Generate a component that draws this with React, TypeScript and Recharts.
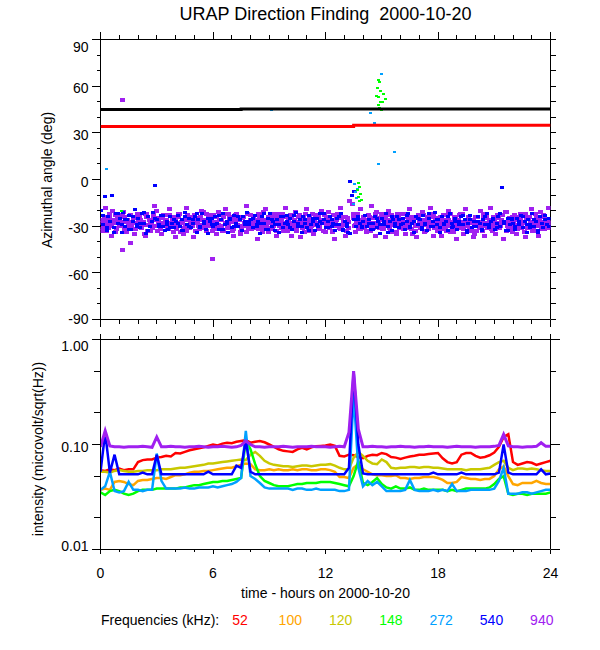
import React from "react";
import { ScatterChart, Scatter, ComposedChart, Line, XAxis, YAxis } from "recharts";

const FONT = '"Liberation Sans", Arial, Helvetica, sans-serif';
const INK = "#000";

// ---------- top panel: azimuthal angle (deg) ----------
// 940 kHz sweeps on a 0.1 h grid (offsets 0, 0.05, 0.075 h); null = no sample
const az940a = [
  -28, -31, -25, -33, -27, -22, -30, -26, -34, -24, -29, -27, -21, -32, -26, -30, -23, -28, -35, -25,
  -27, -24, -31, -29, -22, -33, -26, -28, -25, -30, -20, -27, -32, -24, -29, -26, -31, -23, -28, -34,
  -25, -29, -22, -27, -31, -26, -33, -24, -28, -30, -23, -27, -25, -32, -29, -21, -26, -30, -28, -24,
  -31, -27, -24, -29, -26, -33, -22, -28, -30, -25, -27, -32, -23, -29, -26, -31, -24, -28, -34, -27,
  -23, -30, -26, -28, -32, -25, -29, -21, -27, -31, -26, -24, -30, -28, -33, -25, -27, -22, -29, -31,
  -26, -28, -24, -32, -27, -30, -23, -29, -25, -34, -28, -26, -31, -22, -27, -29, -24, -30, -26, -33,
  -28, -25, -31, -27, -23, -30, -26, -29, -32, -24, -28, -33, -27, null, null, -25, -29, -22, -30, -27,
  -24, -31, -28, -26, -33, -25, -29, -21, -27, -30, -26, -32, -24, -28, -31, -23, -29, -27, -34, -25,
  -30, -27, -22, -29, -26, -31, -24, -28, -33, -25, -27, -30, -23, -29, -26, -32, -28, -24, -31, -27,
  -25, -29, -32, -26, -28, -23, -30, -27, -34, -24, -29, -26, -31, -22, -28, -30, -25, -27, -33, -26,
  -29, -24, -31, -27, -25, -30, -22, -28, -26, -33, -27, -29, -24, -31, -26, -28, -21, -30, -25, -32,
  -27, -23, -29, -31, -26, -28, -34, -25, -30, -24, -27, -32, -22, -29, -26, -31, -28, -24, -30, -27,
  -28,
];
const az940b = [
  -26, -33, -29, -24, -31, -27, -20, -28, -32, -25, -30, -23, -27, -34, -26, -29, -31, -24, -28, -22,
  -30, -26, -28, -35, -24, -29, -27, -31, -22, -26, -33, -28, -25, -30, -27, -23, -32, -29, -26, -24,
  -32, -24, -28, -26, -35, -29, -23, -31, -27, -25, -33, -28, -30, -24, -26, -31, -22, -29, -27, -33,
  -23, -29, -32, -26, -30, -24, -28, -31, -22, -27, -33, -25, -29, -26, -35, -24, -30, -27, -22, -31,
  -28, -24, -31, -27, -22, -29, -34, -26, -30, -24, -28, -32, -25, -27, -22, -30, -26, -33, -24, -28,
  -31, -23, -29, -26, -33, -24, -28, -31, -27, -22, -30, -25, -27, -33, -29, -24, -32, -26, -28, -23,
  -24, -30, -27, -34, -26, -28, -22, -31, -25, -29, -24, -27, -31, null, -16, -30, -24, -27, -32, -26,
  -29, -26, -33, -24, -28, -31, -22, -30, -27, -25, -32, -28, -23, -30, -26, -34, -25, -29, -22, -31,
  -26, -32, -28, -24, -30, -27, -35, -25, -29, -23, -31, -26, -28, -33, -24, -30, -27, -22, -29, -26,
  -31, -24, -27, -29, -33, -26, -22, -31, -28, -25, -30, -23, -27, -32, -26, -29, -24, -31, -28, -35,
  -24, -30, -27, -33, -22, -28, -31, -26, -29, -24, -32, -25, -28, -30, -23, -27, -33, -26, -29, -24,
  -30, -26, -32, -24, -29, -27, -22, -31, -25, -28, -33, -26, -30, -24, -27, -32, -23, -29, -26, -31,
];
const az940c = [
  -33, -27, -18, -30, -25, -36, -28, -23, -31, -26, -29, -45, -24, -34, -27, -41, -30, -25, -32, -28,
  -24, -31, -27, -36, -22, -29, -33, -26, -17, -30, -25, -28, -35, -23, -27, -31, -19, -29, -26, -37,
  -29, -22, -34, -27, -31, -18, -26, -30, -24, -37, -28, -25, -32, -20, -29, -27, -33, -23, -30, -51,
  -27, -35, -21, -30, -26, -33, -19, -28, -31, -24, -36, -27, -22, -30, -34, -25, -28, -17, -31, -26,
  -32, -25, -29, -38, -23, -27, -31, -19, -28, -34, -26, -30, -22, -36, -27, -24, -31, -28, -18, -33,
  -25, -36, -28, -21, -31, -27, -37, -24, -29, -19, -33, -26, -30, -35, -23, -28, -31, -20, -27, -34,
  -30, -21, -26, -33, -38, -24, -29, -18, -32, -27, -36, -25, -14, null, -22, -34, -27, -31, -19, -29,
  -27, -34, -23, -30, -17, -28, -36, -25, -31, -22, -29, -37, -26, -20, -33, -28, -24, -35, -27, -30,
  -22, -29, -35, -27, -19, -32, -26, -30, -37, -24, -28, -21, -34, -27, -31, -18, -29, -36, -25, -33,
  -28, -36, -23, -31, -27, -20, -34, -29, -25, -38, -27, -22, -30, -35, -19, -28, -32, -26, -37, -24,
  -33, -27, -20, -30, -36, -25, -29, -18, -32, -27, -35, -23, -30, -26, -38, -28, -21, -31, -27, -34,
  -26, -35, -29, -22, -31, -27, -37, -24, -30, -19, -28, -33, -25, -36, -21, -29, -32, -27, -18, -30,
];
// 540 kHz: 0.1 h grid (offset 0.025 h) and 0.2 h grid (offset 0.125 h)
const az540a = [
  -20, -29, -11, -33, -24, -27, -10, -31, -22, -28, -25, -34, -21, -30, -26, -23, -32, -27, -19, -29,
  -25, -31, -22, -28, -35, -24, -30, -27, -21, -4, -26, -29, -23, -30, -33, -27, -32, -24, -28, -31,
  -27, -23, -30, -26, -33, -21, -29, -25, -31, -28, -24, -34, -26, -30, -22, -28, -32, -25, -27, -29,
  -30, -24, -28, -32, -26, -22, -29, -27, -34, -25, -31, -23, -28, -30, -26, -33, -24, -29, -21, -27,
  -26, -31, -23, -29, -27, -35, -24, -28, -32, -25, -22, -30, -27, -33, -26, -29, -24, -31, -28, -23,
  -29, -25, -32, -27, -21, -30, -26, -34, -24, -28, -31, -23, -29, -27, -33, -25, -30, -22, -28, -26,
  -31, -27, -24, -30, -28, -33, -25, -29, -22, -32, -27, -30, -34, -1, -10, -26, -30, -24, -28, -31,
  -27, -23, -30, -26, -32, -28, -24, -31, -27, -35, -25, -29, -22, -30, -27, -33, -26, -28, -24, -31,
  -29, -25, -32, -27, -22, -30, -28, -34, -24, -29, -26, -31, -23, -28, -33, -25, -30, -27, -21, -29,
  -26, -31, -24, -29, -27, -33, -22, -28, -30, -25, -32, -27, -24, -29, -26, -34, -28, -23, -31, -27,
  -30, -24, -28, -33, -26, -29, -22, -31, -27, -25, -32, -28, -24, -30, -5, -27, -33, -25, -29, -26,
  -28, -32, -25, -29, -23, -31, -27, -34, -26, -29, -22, -30, -27, -33, -24, -28, -31, -26, -29, -25,
];
const az540b = [
  -23, -31, -27, -34, -22, -29, -26, -32, -24, -30, -28, -21, -33, -27, -25, -30, -23, -29, -31, -26,
  -28, -33, -24, -30, -26, -22, -31, -27, -35, -25, -29, -23, -32, -28, -26, -30, -24, -33, -27, -29,
  -25, -30, -28, -22, -32, -26, -29, -34, -24, -27, -31, -23, -28, -30, -26, -33, -25, -29, -27, -22,
  -31, -26, -29, -24, -33, -28, -35, -8, -26, -30, -23, -28, -32, -25, -29, -27, -34, -24, -30, -26,
  -28, -23, -31, -27, -25, -32, -29, -22, -30, -26, -34, -28, -24, -31, -27, -29, -23, -33, -26, -30,
  -27, -32, -24, -29, -26, -31, -22, -28, -33, -25, -30, -27, -24, -29, -31, -26, -34, -28, -23, -30,
];
// isolated points
const stray940Hours = [1.18];
const stray940Az = [51];
const stray272Hours = [0.31, 9.1, 13.5, 13.55, 13.6, 13.65, 13.7, 14.4, 14.6, 14.8, 14.96, 15.7];
const stray272Az = [6.6, 44.5, -16, -3, -8, -12, -6, 42.8, 36.4, 9.8, 67.7, 17.7];
const stray148Hours = [1.13, 13.7, 13.75, 13.75, 13.8, 13.8, 13.85, 13.9, 14.7, 14.75, 14.8, 14.85, 14.85, 14.9, 14.9, 14.95, 14.95, 15.0, 15.05, 15.1, 15.2];
const stray148Az = [-20, -7, -2, -11, -5, -14, -9, -13, 54, 59, 48, 64, 53, 63, 46, 57, 50, 45, 50, 55, 52];
// planet directions
const jupiterHours = [0, 7.5, 7.5, 24];
const jupiterAz = [45, 45, 45.4, 45.4];
const saturnHours = [0, 13.5, 13.5, 24];
const saturnAz = [34, 34, 34.8, 34.8];

// ---------- bottom panel: intensity (microvolt/sqrt(Hz)), 0.25 h grid ----------
const int52 = [
  0.057, 0.056, 0.058, 0.057, 0.059, 0.057, 0.058, 0.058,
  0.068, 0.071, 0.072, 0.072, 0.075, 0.076, 0.078, 0.077,
  0.083, 0.082, 0.085, 0.088, 0.09, 0.092, 0.094, 0.097,
  0.1, 0.098, 0.102, 0.104, 0.103, 0.106, 0.108, 0.11,
  0.104, 0.106, 0.108, 0.105, 0.1, 0.095, 0.09, 0.087,
  0.086, 0.085, 0.09, 0.093, 0.09, 0.094, 0.096, 0.097,
  0.098, 0.1, 0.097, 0.078, 0.077, 0.08, 0.079, 0.076,
  0.074, 0.078, 0.08, 0.079, 0.083, 0.081, 0.076, 0.075,
  0.073, 0.075, 0.077, 0.078, 0.08, 0.08, 0.081, 0.082,
  0.083, 0.074, 0.068, 0.066, 0.068, 0.08, 0.083, 0.083,
  0.078, 0.075, 0.076, 0.079, 0.084, 0.095, 0.118, 0.125,
  0.068, 0.064, 0.066, 0.068, 0.067, 0.064, 0.066, 0.068,
  0.07,
];
const int100 = [
  0.037, 0.038, 0.037, 0.044, 0.045, 0.044, 0.042, 0.041,
  0.045, 0.046, 0.046, 0.047, 0.048, 0.048, 0.047, 0.049,
  0.051, 0.051, 0.052, 0.054, 0.055, 0.055, 0.056, 0.056,
  0.057, 0.058, 0.059, 0.06, 0.06, 0.062, 0.064, 0.066,
  0.065, 0.058, 0.057, 0.057, 0.058, 0.057, 0.058, 0.057,
  0.057, 0.058, 0.057, 0.058, 0.058, 0.057, 0.057, 0.058,
  0.058, 0.057, 0.055, 0.049, 0.049, 0.048, 0.06, 0.065,
  0.058, 0.055, 0.052, 0.051, 0.051, 0.05, 0.05, 0.051,
  0.048, 0.048, 0.047, 0.048, 0.048, 0.049, 0.049, 0.049,
  0.048, 0.046, 0.043, 0.043, 0.044, 0.049, 0.048, 0.047,
  0.047, 0.046, 0.047, 0.047, 0.05, 0.058, 0.062, 0.05,
  0.042, 0.041, 0.043, 0.043, 0.043, 0.045, 0.043, 0.042,
  0.042,
];
const int120 = [
  0.055, 0.055, 0.054, 0.056, 0.057, 0.056, 0.055, 0.055,
  0.056, 0.056, 0.057, 0.057, 0.057, 0.058, 0.058, 0.058,
  0.059, 0.06, 0.06, 0.061, 0.062, 0.063, 0.064, 0.066,
  0.066, 0.067, 0.068, 0.069, 0.07, 0.071, 0.072, 0.071,
  0.08, 0.085, 0.078, 0.07, 0.066, 0.064, 0.063, 0.062,
  0.062, 0.061, 0.062, 0.063, 0.063, 0.062, 0.063, 0.064,
  0.064, 0.065, 0.063, 0.06, 0.058, 0.058, 0.075, 0.085,
  0.078, 0.07, 0.066, 0.065, 0.072, 0.068, 0.06, 0.059,
  0.06, 0.06, 0.061, 0.061, 0.06, 0.061, 0.061, 0.06,
  0.06, 0.059, 0.058, 0.058, 0.058, 0.058, 0.057, 0.058,
  0.058, 0.058, 0.059, 0.06, 0.064, 0.068, 0.07, 0.06,
  0.057, 0.059, 0.059, 0.058, 0.059, 0.058, 0.057, 0.056,
  0.056,
];
const int148 = [
  0.035, 0.033, 0.036, 0.037, 0.036, 0.034, 0.033, 0.034,
  0.036, 0.037, 0.037, 0.037, 0.038, 0.038, 0.038, 0.038,
  0.038, 0.039, 0.039, 0.04, 0.041, 0.041, 0.042, 0.043,
  0.044, 0.044, 0.045, 0.045, 0.046, 0.047, 0.048, 0.11,
  0.09, 0.065, 0.05, 0.045, 0.043, 0.041, 0.04, 0.04,
  0.04, 0.041, 0.042, 0.042, 0.043, 0.043, 0.043, 0.044,
  0.044, 0.044, 0.043, 0.042, 0.041, 0.04, 0.05, 0.07,
  0.043, 0.041, 0.044, 0.048, 0.042, 0.039, 0.038, 0.04,
  0.038, 0.038, 0.039, 0.037, 0.037, 0.038, 0.037, 0.037,
  0.037, 0.037, 0.036, 0.037, 0.036, 0.037, 0.038, 0.038,
  0.038, 0.038, 0.038, 0.039, 0.042, 0.047, 0.05, 0.034,
  0.033, 0.034, 0.034, 0.033, 0.034, 0.034, 0.034, 0.034,
  0.035,
];
const int272 = [
  0.037, 0.04, 0.055, 0.036, 0.035, 0.036, 0.044, 0.037,
  0.037, 0.036, 0.037, 0.037, 0.082, 0.045, 0.038, 0.038,
  0.038, 0.038, 0.039, 0.038, 0.038, 0.039, 0.039, 0.039,
  0.04, 0.039, 0.04, 0.041, 0.042, 0.044, 0.048, 0.135,
  0.05, 0.047, 0.043, 0.039, 0.038, 0.038, 0.038, 0.038,
  0.038, 0.037, 0.038, 0.038, 0.037, 0.037, 0.038, 0.037,
  0.037, 0.037, 0.037, 0.036, 0.036, 0.037, 0.3, 0.06,
  0.04, 0.045, 0.041, 0.044, 0.04, 0.036, 0.036, 0.036,
  0.036, 0.037, 0.046, 0.037, 0.036, 0.036, 0.036, 0.037,
  0.036, 0.037, 0.036, 0.042, 0.036, 0.036, 0.036, 0.037,
  0.037, 0.037, 0.037, 0.037, 0.038, 0.045, 0.06, 0.034,
  0.034, 0.034, 0.035, 0.035, 0.034, 0.035, 0.036, 0.037,
  0.037,
];
const int540 = [
  0.055, 0.13, 0.054, 0.08, 0.052, 0.052, 0.052, 0.052,
  0.052, 0.054, 0.052, 0.052, 0.08, 0.052, 0.052, 0.052,
  0.052, 0.052, 0.052, 0.052, 0.052, 0.052, 0.052, 0.055,
  0.052, 0.052, 0.052, 0.052, 0.052, 0.063, 0.06, 0.11,
  0.055, 0.052, 0.052, 0.052, 0.052, 0.052, 0.052, 0.052,
  0.052, 0.052, 0.052, 0.052, 0.052, 0.052, 0.052, 0.052,
  0.052, 0.052, 0.052, 0.052, 0.052, 0.06, 0.5, 0.1,
  0.053, 0.052, 0.052, 0.052, 0.052, 0.052, 0.052, 0.052,
  0.052, 0.052, 0.052, 0.052, 0.052, 0.052, 0.052, 0.054,
  0.052, 0.052, 0.052, 0.052, 0.052, 0.054, 0.052, 0.052,
  0.052, 0.052, 0.052, 0.052, 0.052, 0.054, 0.1, 0.054,
  0.052, 0.052, 0.052, 0.052, 0.052, 0.052, 0.058, 0.052,
  0.053,
];
const int940 = [
  0.095, 0.135, 0.097, 0.095, 0.095, 0.094, 0.095, 0.095,
  0.095, 0.096, 0.095, 0.094, 0.118, 0.095, 0.095, 0.096,
  0.095, 0.095, 0.094, 0.095, 0.095, 0.096, 0.095, 0.094,
  0.095, 0.095, 0.096, 0.095, 0.094, 0.095, 0.098, 0.108,
  0.1, 0.095, 0.095, 0.094, 0.095, 0.095, 0.095, 0.096,
  0.095, 0.094, 0.095, 0.095, 0.095, 0.096, 0.095, 0.095,
  0.095, 0.094, 0.095, 0.096, 0.095, 0.13, 0.5, 0.14,
  0.095, 0.095, 0.096, 0.095, 0.095, 0.094, 0.095, 0.095,
  0.096, 0.095, 0.095, 0.094, 0.095, 0.095, 0.096, 0.095,
  0.095, 0.095, 0.094, 0.095, 0.096, 0.095, 0.095, 0.095,
  0.094, 0.095, 0.095, 0.095, 0.096, 0.098, 0.125, 0.097,
  0.095, 0.095, 0.094, 0.095, 0.095, 0.096, 0.104, 0.096,
  0.096,
];

const freqLabels = ["52", "100", "120", "148", "272", "540", "940"];
const freqColors = ["#ff0000", "#ffa500", "#c8c800", "#00ff00", "#00a0ff", "#0000ff", "#a020f0"];

const hourTicks = [0, 1, 2, 3, 4, 5, 6, 7, 8, 9, 10, 11, 12, 13, 14, 15, 16, 17, 18, 19, 20, 21, 22, 23, 24];
const azTicks = [-90, -80, -70, -60, -50, -40, -30, -20, -10, 0, 10, 20, 30, 40, 50, 60, 70, 80, 90];
const logTicks = [0.01, 0.02, 0.05, 0.1, 0.2, 0.5, 1];
const logLabels: Record<string, string> = { "1": "1.00", "0.1": "0.10", "0.01": "0.01" };

// ---------- assembled point lists ----------
const onGrid = (vals: (number | null)[], step: number, offset: number) =>
  vals
    .map((deg, i) => ({ h: i * step + offset, deg }))
    .filter((p) => p.deg !== null);
const paired = (hours: number[], az: number[], tags?: string[]) =>
  hours.map((h, i) => ({ h, deg: az[i], tag: tags ? tags[i] : "" }));

const pts940 = [
  ...onGrid(az940a, 0.1, 0),
  ...onGrid(az940b, 0.1, 0.05),
  ...onGrid(az940c, 0.1, 0.075),
  ...paired(stray940Hours, stray940Az),
];
const pts540 = [...onGrid(az540a, 0.1, 0.025), ...onGrid(az540b, 0.2, 0.125)];
const pts272 = paired(stray272Hours, stray272Az);
const pts148 = paired(stray148Hours, stray148Az);
const jupiter = paired(jupiterHours, jupiterAz, ["", "", "", "Jupiter"]);
const saturn = paired(saturnHours, saturnAz, ["", "", "", "Saturn"]);

const intensityRows = int52.map((v, i) => ({
  h: i * 0.25,
  f52: v,
  f100: int100[i],
  f120: int120[i],
  f148: int148[i],
  f272: int272[i],
  f540: int540[i],
  f940: int940[i],
}));

// ---------- tick renderers ----------
const hourTick = (side: "top" | "bottom", majorLen: number, minorLen: number, labels: boolean) =>
  function HourTick(p: any) {
    const h = p.payload.value;
    const major = h % 6 === 0;
    const d = side === "top" ? -1 : 1;
    return (
      <g>
        <line x1={p.x} x2={p.x} y1={p.y} y2={p.y + d * (major ? majorLen : minorLen)} stroke={INK} shapeRendering="crispEdges" />
        {labels && major && (
          <text x={p.x} y={p.y + 28} textAnchor="middle" fontSize={14} fontFamily={FONT} fill={INK}>
            {h}
          </text>
        )}
      </g>
    );
  };

const azTick = (side: "left" | "right") =>
  function AzTick(p: any) {
    const v = p.payload.value;
    const major = v % 30 === 0;
    const len = side === "left" ? (major ? 9 : 4) : 5;
    const d = side === "left" ? -1 : 1;
    const dy = v === 90 ? 12 : v === -90 ? 4 : 7;
    return (
      <g>
        <line x1={p.x} x2={p.x + d * len} y1={p.y} y2={p.y} stroke={INK} shapeRendering="crispEdges" />
        {side === "left" && major && (
          <text x={p.x - 12} y={p.y + dy} textAnchor="end" fontSize={14} fontFamily={FONT} fill={INK}>
            {v}
          </text>
        )}
      </g>
    );
  };

const logTick = (side: "left" | "right") =>
  function LogTick(p: any) {
    const v = p.payload.value;
    const label = logLabels[String(v)];
    const major = label !== undefined;
    const len = side === "left" ? (major ? 9 : 7) : major ? 9 : 5;
    const d = side === "left" ? -1 : 1;
    const dy = v === 1 ? 11 : v === 0.01 ? 1 : 7;
    return (
      <g>
        <line x1={p.x} x2={p.x + d * len} y1={p.y} y2={p.y} stroke={INK} shapeRendering="crispEdges" />
        {side === "left" && major && (
          <text x={p.x - 12} y={p.y + dy} textAnchor="end" fontSize={14} fontFamily={FONT} fill={INK}>
            {label}
          </text>
        )}
      </g>
    );
  };

const dot = (w: number, hgt: number, fill: string) =>
  function Dot(p: any) {
    return <rect x={p.cx - w / 2} y={p.cy - hgt / 2} width={w} height={hgt} fill={fill} shapeRendering="crispEdges" />;
  };

const planetTag = (p: any) =>
  p.payload && p.payload.tag ? (
    <text x={p.cx + 2} y={p.cy + 4} fontSize={14} fontFamily={FONT} fill={INK}>
      {p.payload.tag}
    </text>
  ) : (
    <g />
  );

const commonX = { dataKey: "h", type: "number" as const, domain: [0, 24], ticks: hourTicks, interval: 0, tickSize: 0, tickMargin: 0, tickLine: false, height: 10, stroke: INK, allowDataOverflow: true };

export default function App() {
  const abs = { position: "absolute" as const };
  return (
    <div style={{ ...abs, left: 0, top: 0, width: 600, height: 650, background: "#fff", fontFamily: FONT, color: INK }}>
      <div style={{ ...abs, left: 75.5, top: 4, width: 500, textAlign: "center", fontSize: 18, lineHeight: "20px", whiteSpace: "pre" }}>
        {"URAP Direction Finding  2000-10-20"}
      </div>

      <div style={{ ...abs, left: 0, top: 0 }}>
        <ScatterChart width={600} height={330} margin={{ top: 29.5, right: 9.5, bottom: 0.5, left: 60.5 }}>
          <XAxis xAxisId="b" {...commonX} orientation="bottom" tick={hourTick("bottom", 7, 4, false)} />
          <XAxis xAxisId="t" {...commonX} orientation="top" tick={hourTick("top", 8, 5, false)} />
          <YAxis yAxisId="l" dataKey="deg" type="number" domain={[-90, 90]} ticks={azTicks} interval={0} tickSize={0} tickMargin={0} tickLine={false} width={40} stroke={INK} allowDataOverflow tick={azTick("left")} />
          <YAxis yAxisId="r" orientation="right" dataKey="deg" type="number" domain={[-90, 90]} ticks={azTicks} interval={0} tickSize={0} tickMargin={0} tickLine={false} width={40} stroke={INK} allowDataOverflow tick={azTick("right")} />
          <Scatter xAxisId="b" yAxisId="l" data={pts940} fill={freqColors[6]} shape={dot(5, 4, freqColors[6])} isAnimationActive={false} />
          <Scatter xAxisId="b" yAxisId="l" data={pts540} fill={freqColors[5]} shape={dot(4, 3, freqColors[5])} isAnimationActive={false} />
          <Scatter xAxisId="b" yAxisId="l" data={pts272} fill={freqColors[4]} shape={dot(3, 2, freqColors[4])} isAnimationActive={false} />
          <Scatter xAxisId="b" yAxisId="l" data={pts148} fill={freqColors[3]} shape={dot(3, 2, freqColors[3])} isAnimationActive={false} />
          <Scatter xAxisId="t" yAxisId="r" data={jupiter} fill={INK} line={{ stroke: INK, strokeWidth: 3 }} shape={planetTag} isAnimationActive={false} />
          <Scatter xAxisId="t" yAxisId="r" data={saturn} fill="#ff0000" line={{ stroke: "#ff0000", strokeWidth: 3 }} shape={planetTag} isAnimationActive={false} />
        </ScatterChart>
      </div>

      <div style={{ ...abs, left: 0, top: 320 }}>
        <ComposedChart width={600} height={270} data={intensityRows} margin={{ top: 9.5, right: 9.5, bottom: 30.5, left: 60.5 }}>
          <XAxis xAxisId="b" {...commonX} orientation="bottom" tick={hourTick("bottom", 4, 2, true)} />
          <XAxis xAxisId="t" {...commonX} orientation="top" tick={hourTick("top", 6, 4, false)} />
          <YAxis yAxisId="l" type="number" scale="log" domain={[0.01, 1]} ticks={logTicks} interval={0} tickSize={0} tickMargin={0} tickLine={false} width={40} stroke={INK} allowDataOverflow tick={logTick("left")} />
          <YAxis yAxisId="r" orientation="right" type="number" scale="log" domain={[0.01, 1]} ticks={logTicks} interval={0} tickSize={0} tickMargin={0} tickLine={false} width={40} stroke={INK} allowDataOverflow tick={logTick("right")} />
          {["f52", "f100", "f120", "f148", "f272", "f540"].map((k, i) => (
            <Line key={k} xAxisId="b" yAxisId="l" dataKey={k} type="linear" stroke={freqColors[i]} strokeWidth={2.5} dot={false} isAnimationActive={false} />
          ))}
          <Line xAxisId="t" yAxisId="r" dataKey="f940" type="linear" stroke={freqColors[6]} strokeWidth={3} dot={false} isAnimationActive={false} />
        </ComposedChart>
      </div>

      <div style={{ ...abs, left: 47 - 150, top: 180 - 10, width: 300, height: 20, lineHeight: "20px", textAlign: "center", fontSize: 14, transform: "rotate(-90deg)" }}>
        Azimuthal angle (deg)
      </div>
      <div style={{ ...abs, left: 38 - 150, top: 449 - 10, width: 300, height: 20, lineHeight: "20px", textAlign: "center", fontSize: 14, transform: "rotate(-90deg)" }}>
        intensity (microvolt/sqrt(Hz))
      </div>
      <div style={{ ...abs, left: 75.5, top: 583, width: 500, textAlign: "center", fontSize: 14, lineHeight: "20px" }}>
        time - hours on 2000-10-20
      </div>
      <div style={{ ...abs, left: 101, top: 610, fontSize: 14, lineHeight: "20px", whiteSpace: "pre" }}>Frequencies (kHz):</div>
      {freqLabels.map((f, i) => (
        <div key={f} style={{ ...abs, left: 240 + i * 50.3 - 20, top: 610, width: 40, textAlign: "center", fontSize: 14, lineHeight: "20px", color: freqColors[i] }}>
          {f}
        </div>
      ))}
    </div>
  );
}
